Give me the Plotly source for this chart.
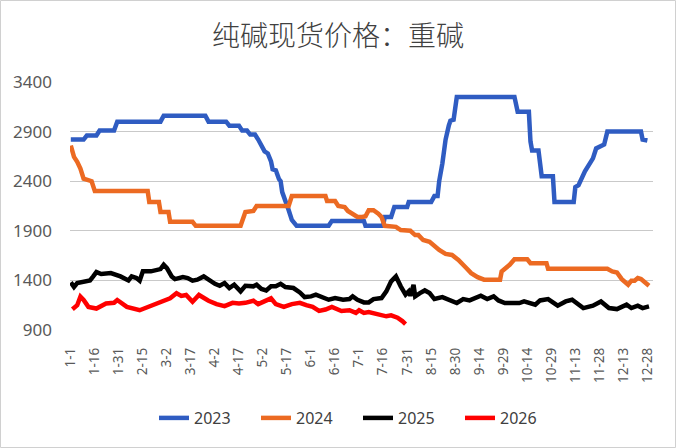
import plotly.graph_objects as go

# ---- categories: month-day labels (one date missing in late March, as in the source axis)
month_days = [31, 28, 30, 30, 31, 30, 31, 31, 30, 31, 30, 31]
categories = [f"{m}-{d}" for m, n in enumerate(month_days, start=1) for d in range(1, n + 1)]

tick_labels = ["1-1", "1-16", "1-31", "2-15", "3-2", "3-17", "4-2", "4-17", "5-2", "5-17",
               "6-1", "6-16", "7-1", "7-16", "7-31", "8-15", "8-30", "9-14", "9-29",
               "10-14", "10-29", "11-13", "11-28", "12-13", "12-28"]

# ---- series (date label, price)
dates_2023 = ["1-1", "1-9", "1-11", "1-17", "1-19", "1-28", "1-30", "2-26", "2-28", "3-26",
              "3-28", "4-9", "4-11", "4-17", "4-19", "4-22", "4-24", "4-27", "4-29", "5-2",
              "5-3", "5-5", "5-7", "5-8", "5-10", "5-12", "5-13", "5-14", "5-16", "5-18",
              "5-20", "5-23", "6-12", "6-14", "7-4", "7-5", "7-16", "7-17", "7-21", "7-23",
              "7-31", "8-1", "8-15", "8-17", "8-19", "8-20", "8-22", "8-24", "8-26", "8-27",
              "8-29", "8-31", "10-6", "10-8", "10-15", "10-16", "10-17", "10-21", "10-23", "10-30",
              "10-31", "11-12", "11-13", "11-15", "11-19", "11-21", "11-24", "11-26", "11-29", "12-1",
              "12-3", "12-24", "12-25", "12-28"]
values_2023 = [2820, 2820, 2860, 2860, 2910, 2910, 3000, 3000, 3060, 3060,
               3000, 3000, 2960, 2960, 2910, 2910, 2870, 2870, 2820, 2730,
               2700, 2680, 2600, 2520, 2510, 2420, 2400, 2290, 2180, 2110,
               2010, 1950, 1950, 2000, 2000, 1950, 1950, 2040, 2040, 2140,
               2140, 2190, 2190, 2250, 2250, 2400, 2580, 2820, 2960, 3010,
               3020, 3250, 3250, 3100, 3100, 2800, 2710, 2710, 2450, 2450,
               2190, 2190, 2340, 2360, 2500, 2550, 2630, 2730, 2760, 2770,
               2900, 2900, 2820, 2810]

dates_2024 = ["1-1", "1-3", "1-5", "1-7", "1-9", "1-11", "1-14", "1-16", "2-18", "2-19",
              "2-25", "2-26", "3-3", "3-4", "3-18", "3-20", "4-18", "4-21", "4-26", "4-28",
              "5-18", "5-20", "6-10", "6-11", "6-16", "6-18", "6-22", "6-24", "6-27", "6-30",
              "7-3", "7-5", "7-7", "7-10", "7-13", "7-15", "7-17", "7-24", "7-27", "8-2",
              "8-5", "8-7", "8-10", "8-14", "8-20", "8-24", "8-28", "9-1", "9-5", "9-9",
              "9-13", "9-17", "9-27", "9-28", "10-3", "10-6", "10-14", "10-16", "10-26", "10-27",
              "12-3", "12-6", "12-9", "12-12", "12-16", "12-18", "12-20", "12-22", "12-24", "12-29"]
values_2024 = [2760, 2645, 2595, 2527, 2425, 2410, 2400, 2300, 2300, 2190,
               2190, 2090, 2090, 1990, 1990, 1950, 1950, 2090, 2100, 2150,
               2150, 2250, 2250, 2200, 2200, 2150, 2140, 2100, 2070, 2040,
               2040, 2047, 2107, 2107, 2073, 2040, 1950, 1940, 1907, 1900,
               1857, 1857, 1807, 1790, 1707, 1667, 1657, 1607, 1540, 1473,
               1433, 1407, 1407, 1490, 1557, 1613, 1613, 1573, 1573, 1517,
               1517, 1490, 1480, 1413, 1356, 1397, 1397, 1424, 1413, 1346]

dates_2025 = ["1-1", "1-3", "1-5", "1-9", "1-13", "1-15", "1-17", "1-20", "1-26", "2-1",
              "2-6", "2-8", "2-11", "2-13", "2-15", "2-20", "2-24", "2-26", "2-28", "3-2",
              "3-5", "3-7", "3-12", "3-15", "3-18", "3-21", "3-25", "3-28", "3-30", "4-2",
              "4-5", "4-8", "4-11", "4-14", "4-18", "4-21", "4-26", "4-28", "5-1", "5-4",
              "5-7", "5-10", "5-13", "5-16", "5-21", "5-25", "5-28", "6-1", "6-4", "6-7",
              "6-12", "6-16", "6-21", "6-25", "6-27", "6-30", "7-4", "7-7", "7-10", "7-15",
              "7-18", "7-21", "7-24", "7-27", "7-30", "8-1", "8-2", "8-4", "8-5", "8-8",
              "8-11", "8-14", "8-17", "8-22", "8-26", "8-31", "9-4", "9-8", "9-15", "9-19",
              "9-23", "9-26", "9-30", "10-9", "10-12", "10-19", "10-22", "10-27", "11-2", "11-7",
              "11-11", "11-18", "11-24", "11-29", "12-4", "12-9", "12-15", "12-18", "12-22", "12-25",
              "12-29"]
values_2025 = [1380, 1333, 1373, 1390, 1400, 1440, 1484, 1464, 1474, 1440,
               1400, 1440, 1424, 1397, 1491, 1491, 1508, 1514, 1558, 1524,
               1440, 1413, 1434, 1424, 1397, 1407, 1440, 1407, 1395, 1366,
               1346, 1373, 1323, 1356, 1289, 1346, 1340, 1356, 1313, 1299,
               1340, 1340, 1366, 1333, 1323, 1279, 1232, 1239, 1256, 1239,
               1205, 1222, 1205, 1212, 1239, 1205, 1178, 1178, 1212, 1222,
               1289, 1390, 1440, 1340, 1256, 1289, 1245, 1356, 1239, 1272,
               1299, 1272, 1212, 1232, 1205, 1172, 1212, 1198, 1245, 1212,
               1239, 1198, 1172, 1172, 1188, 1155, 1198, 1212, 1145, 1188,
               1205, 1121, 1145, 1188, 1121, 1111, 1155, 1121, 1145, 1121,
               1138]

dates_2026 = ["1-2", "1-5", "1-7", "1-9", "1-12", "1-17", "1-23", "1-28", "1-30", "2-5",
              "2-13", "2-18", "2-25", "3-4", "3-8", "3-11", "3-14", "3-18", "3-22", "3-28",
              "4-3", "4-8", "4-13", "4-17", "4-21", "4-26", "4-29", "5-3", "5-7", "5-10",
              "5-15", "5-20", "5-25", "5-29", "6-2", "6-6", "6-10", "6-14", "6-17", "6-20",
              "6-25", "6-29", "7-1", "7-4", "7-7", "7-11", "7-15", "7-18", "7-21", "7-25",
              "7-28", "7-30"]
values_2026 = [1110, 1150, 1236, 1202, 1133, 1116, 1167, 1174, 1202, 1133,
               1099, 1133, 1174, 1219, 1270, 1243, 1253, 1185, 1253, 1195,
               1161, 1140, 1174, 1167, 1174, 1195, 1161, 1185, 1219, 1161,
               1133, 1161, 1174, 1150, 1133, 1092, 1106, 1133, 1106, 1092,
               1099, 1072, 1099, 1072, 1082, 1065, 1058, 1038, 1048, 1024,
               990, 960]

series_names = ["2023", "2024", "2025", "2026"]
series_colors = ["#2F5CC2", "#EC6A22", "#000000", "#FF0000"]

fig = go.Figure()
for name, xs, ys, col in zip(series_names,
                             [dates_2023, dates_2024, dates_2025, dates_2026],
                             [values_2023, values_2024, values_2025, values_2026],
                             series_colors):
    fig.add_trace(go.Scatter(x=xs, y=ys, name=name, mode="lines",
                             line=dict(color=col, width=4.5)))

W, H = 676, 448
L, R, T, B = 70, 23, 82, 118
pw, ph = W - L - R, H - T - B

fig.update_layout(
    width=W, height=H,
    margin=dict(l=L, r=R, t=T, b=B),
    paper_bgcolor="white", plot_bgcolor="white",
    font=dict(family="Noto Sans, Open Sans, sans-serif", color="#595959"),
    title=dict(text="纯碱现货价格：重碱", x=0.5, xanchor="center",
               y=1 - 36 / H, yanchor="middle", yref="container",
               font=dict(family="Noto Sans CJK SC", size=28, color="#404040",
                         weight=300)),
    showlegend=True,
    legend=dict(orientation="h", x=(154 - L) / pw, xanchor="left",
                y=(T + ph - 418) / ph, yanchor="middle",
                font=dict(size=16, color="#404040"),
                entrywidth=57, entrywidthmode="pixels",
                traceorder="normal", bgcolor="rgba(0,0,0,0)"),
    xaxis=dict(type="category", categoryorder="array", categoryarray=categories,
               range=[-0.5, len(categories) - 0.5],
               tickmode="array", tickvals=tick_labels, ticktext=tick_labels,
               tickangle=-90, tickfont=dict(size=13.5, color="#595959"),
               showgrid=False, zeroline=False, showline=False, ticks="",
               ticklabelstandoff=14),
    yaxis=dict(range=[900, 3400], tickmode="array",
               tickvals=[900, 1400, 1900, 2400, 2900, 3400],
               tickfont=dict(size=17, color="#595959"),
               showgrid=True, gridcolor="#C9C9C9", gridwidth=1.4,
               zeroline=False, showline=False, ticks="",
               ticklabelstandoff=17),
    shapes=[dict(type="rect", xref="paper", yref="paper",
                 x0=(0.5 - L) / pw, x1=(W - 0.5 - L) / pw,
                 y0=(T + ph - (H - 0.5)) / ph, y1=(T + ph - 0.5) / ph,
                 line=dict(color="#D0D0D0", width=1), layer="below")],
)

fig.write_html("out.html", config={"displayModeBar": False},
               post_script="document.body.style.margin='0';")
